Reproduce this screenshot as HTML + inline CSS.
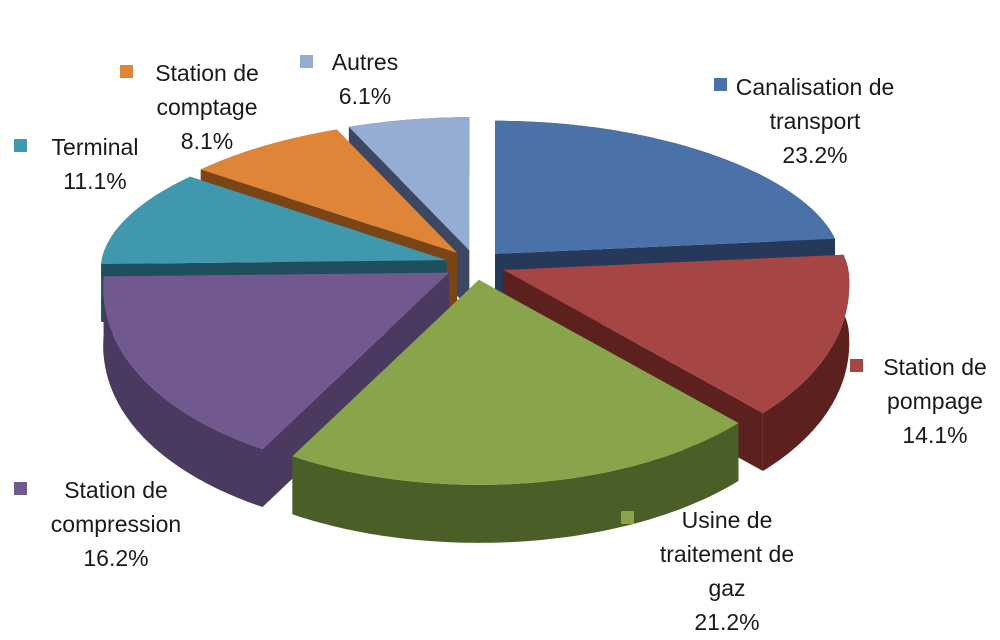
<!DOCTYPE html>
<html><head><meta charset="utf-8">
<style>
html,body{margin:0;padding:0;background:#fff;}
svg{display:block;font-family:"Liberation Sans",sans-serif;}
</style></head>
<body>
<svg id="chart" width="1000" height="640" viewBox="0 0 1000 640" xmlns="http://www.w3.org/2000/svg">
<rect width="1000" height="640" fill="#fff"/>
<g id="slices"></g>
<g id="labels"></g>
</svg>
<script>
const categories = ["Canalisation de transport","Station de pompage","Usine de traitement de gaz","Station de compression","Terminal","Station de comptage","Autres"];
const values = [23.2, 14.1, 21.2, 16.2, 11.1, 8.1, 6.1];
const labelLines = [["Canalisation de","transport"],["Station de","pompage"],["Usine de","traitement de","gaz"],["Station de","compression"],["Terminal"],["Station de","comptage"],["Autres"]];

const topColors = ["#4a72a8","#a64644","#88a54b","#71588f","#4098af","#de8537","#95acd3"];
const sideColors = ["#26395a","#5c201f","#4a5e27","#4a3a5f","#1f4f5c","#7a4416","#3c4762"];
const labelPos = [[815,87],[935,367],[727,520],[116,490],[95,147],[207,73],[365,62]];
const markerPos = [[714,78],[850,359],[621,511],[14,482],[14,139],[120,65],[300,55]];

const NS = "http://www.w3.org/2000/svg";
const cx = 475, cy = 265, rxMid = 345, rxTilt = 25, ryBack = 133, ryFront = 205, depth = 58, explode = 30;

function pt(theta, r, ox, oy) {
  const s = Math.sin(theta), c = Math.cos(theta);
  const ry = c > 0 ? ryBack : ryFront;
  const rx = rxMid - rxTilt * c;
  return [ox + r * rx * s, oy - r * ry * c];
}
function poly(points, fill, name) {
  const p = document.createElementNS(NS, "polygon");
  p.setAttribute("points", points.map(q => q[0].toFixed(1) + "," + q[1].toFixed(1)).join(" "));
  p.setAttribute("fill", fill);
  
  
  return p;
}

const total = values.reduce((a, b) => a + b, 0);
const gSlices = document.getElementById("slices");
let acc = 0;
const slices = [];
values.forEach((v, i) => {
  const a0 = acc / total * 2 * Math.PI;
  acc += v;
  const a1 = acc / total * 2 * Math.PI;
  const mid = (a0 + a1) / 2;
  const ox = cx + explode * Math.sin(mid);
  const oy = cy - explode * 0.5 * Math.cos(mid);
  slices.push({i, a0, a1, mid, ox, oy});
});
slices.slice().sort((a, b) => a.oy - b.oy).forEach(s => {
  const g = document.createElementNS(NS, "g");
  
  
  const n = Math.max(8, Math.ceil((s.a1 - s.a0) * 60));
  const arc = [];
  for (let k = 0; k <= n; k++) arc.push(pt(s.a0 + (s.a1 - s.a0) * k / n, 1, s.ox, s.oy));
  const c0 = [s.ox, s.oy];
  const down = q => [q[0], q[1] + depth];
  g.appendChild(poly([c0, arc[0], down(arc[0]), down(c0)], sideColors[s.i], "slice-side-start"));
  g.appendChild(poly([c0, arc[n], down(arc[n]), down(c0)], sideColors[s.i], "slice-side-end"));
  g.appendChild(poly(arc.concat(arc.slice().reverse().map(down)), sideColors[s.i], "slice-outer-wall"));
  g.appendChild(poly([c0].concat(arc), topColors[s.i], "slice-top"));
  gSlices.appendChild(g);
});

const gL = document.getElementById("labels");
values.forEach((v, i) => {
  const g = document.createElementNS(NS, "g");
  
  
  const m = document.createElementNS(NS, "rect");
  m.setAttribute("x", markerPos[i][0]); m.setAttribute("y", markerPos[i][1]);
  m.setAttribute("width", 13); m.setAttribute("height", 13);
  m.setAttribute("fill", topColors[i]);
  
  
  g.appendChild(m);
  const lines = labelLines[i].concat([v.toFixed(1) + "%"]);
  lines.forEach((ln, k) => {
    const t = document.createElementNS(NS, "text");
    t.setAttribute("x", labelPos[i][0]);
    t.setAttribute("y", labelPos[i][1] + k * 34 + 8);
    t.setAttribute("text-anchor", "middle");
    t.setAttribute("font-size", "23");
    t.setAttribute("fill", "#1a1a1a");
    
    
    t.textContent = ln;
    g.appendChild(t);
  });
  gL.appendChild(g);
});
</script>
</body></html>
